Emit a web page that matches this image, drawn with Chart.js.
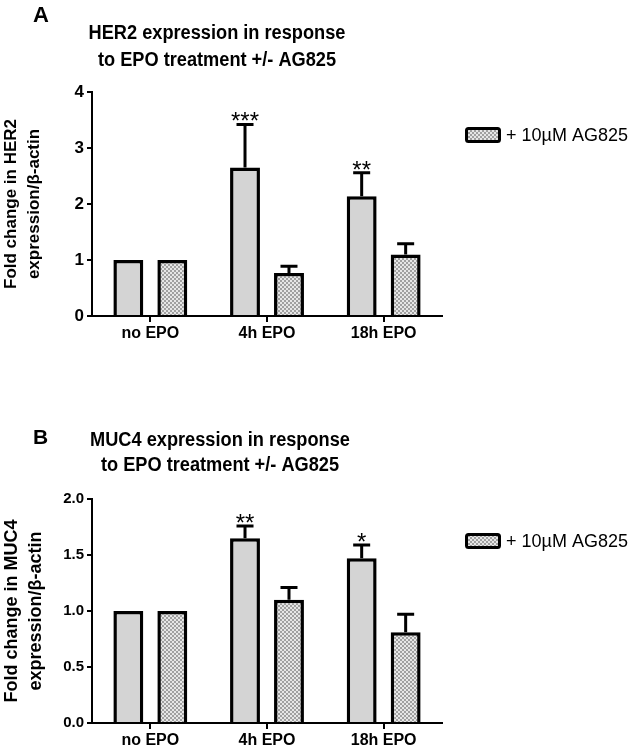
<!DOCTYPE html>
<html>
<head>
<meta charset="utf-8">
<script src="https://cdn.jsdelivr.net/npm/chart.js@4.4.1/dist/chart.umd.min.js"></script>
<style>
  html, body { margin: 0; padding: 0; background: #fff; }
  body { width: 634px; height: 747px; position: relative; overflow: hidden; }
  canvas { position: absolute; left: 0; }
  #cA { top: 0; }
  #cB { top: 375px; }
</style>
</head>
<body>
<canvas id="cA" width="634" height="375"></canvas>
<canvas id="cB" width="634" height="372"></canvas>
<script>
// ---------- DATA ----------
const categories = ['no EPO', '4h EPO', '18h EPO'];
const legendLabel = '+ 10\u00b5M AG825';

// Panel A: HER2
const her2Control = [1.0, 2.65, 2.14];
const her2ControlErr = [0, 0.77, 0.42];
const her2ControlStars = ['', '***', '**'];
const her2AG = [1.0, 0.77, 1.10];
const her2AGErr = [0, 0.12, 0.19];
const her2Ticks = ['0', '1', '2', '3', '4'];

// Panel B: MUC4
const muc4Control = [1.0, 1.65, 1.47];
const muc4ControlErr = [0, 0.11, 0.12];
const muc4ControlStars = ['', '**', '*'];
const muc4AG = [1.0, 1.10, 0.81];
const muc4AGErr = [0, 0.11, 0.16];
const muc4Ticks = ['0.0', '0.5', '1.0', '1.5', '2.0'];

// ---------- STYLE ----------
const FONT = "'Liberation Sans', Arial, Helvetica, sans-serif";
Chart.defaults.font.family = FONT;
Chart.defaults.color = '#000';

function makePattern() {
  const p = document.createElement('canvas');
  p.width = 4; p.height = 4;
  const g = p.getContext('2d');
  g.fillStyle = '#e6e6e6'; g.fillRect(0, 0, 4, 4);
  g.fillStyle = '#a0a0a0';
  g.fillRect(0, 0, 2, 2); g.fillRect(2, 2, 2, 2);
  return g.createPattern(p, 'repeat');
}

const errorBars = {
  id: 'errorBars',
  afterDatasetsDraw(chart) {
    const ctx = chart.ctx, y = chart.scales.y;
    chart.data.datasets.forEach((ds, di) => {
      const meta = chart.getDatasetMeta(di);
      meta.data.forEach((bar, i) => {
        const e = ds.errors ? ds.errors[i] : 0;
        let top = bar.y;
        if (e) {
          top = y.getPixelForValue(ds.data[i] + e);
          ctx.save();
          ctx.strokeStyle = '#000';
          ctx.lineWidth = 3;
          ctx.lineCap = 'butt';
          ctx.beginPath();
          ctx.moveTo(bar.x, bar.y);
          ctx.lineTo(bar.x, top);
          ctx.moveTo(bar.x - 8.5, top);
          ctx.lineTo(bar.x + 8.5, top);
          ctx.stroke();
          ctx.restore();
        }
        if (ds.stars && ds.stars[i]) {
          ctx.save();
          ctx.fillStyle = '#000';
          ctx.font = '24px ' + FONT;
          ctx.textAlign = 'center';
          ctx.textBaseline = 'alphabetic';
          ctx.fillText(ds.stars[i], bar.x, top + 5);
          ctx.restore();
        }
      });
    });
  }
};

const decorations = {
  id: 'decorations',
  afterDraw(chart, args, o) {
    const ctx = chart.ctx;
    ctx.save();
    ctx.fillStyle = '#000';
    // panel letter
    ctx.font = 'bold ' + o.letterSize + 'px ' + FONT;
    ctx.textAlign = 'left';
    ctx.textBaseline = 'middle';
    ctx.fillText(o.letter, o.letterX, o.letterY);
    // title lines (slightly condensed)
    ctx.font = 'bold 20px ' + FONT;
    ctx.textAlign = 'center';
    o.title.forEach((t, k) => {
      ctx.save();
      ctx.translate(o.titleX, o.titleY + k * o.titleGap);
      ctx.scale(0.91, 1);
      ctx.fillText(t, 0, 0);
      ctx.restore();
    });
    // legend
    const ds = chart.data.datasets[1];
    const lx = 465, ly = o.legendY, w = 36, h = 16;
    ctx.fillStyle = ds.backgroundColor;
    ctx.beginPath();
    ctx.roundRect(lx + 1.5, ly + 1.5, w - 3, h - 3, 2);
    ctx.fill();
    ctx.strokeStyle = '#000';
    ctx.lineWidth = 3;
    ctx.stroke();
    ctx.fillStyle = '#000';
    ctx.font = '18px ' + FONT;
    ctx.textAlign = 'left';
    ctx.textBaseline = 'middle';
    ctx.fillText(ds.label, lx + w + 5, ly + h / 2 + 1);
    ctx.restore();
  }
};

function buildChart(id, cfg) {
  const H = document.getElementById(id).height;
  const pattern = makePattern();
  return new Chart(document.getElementById(id), {
    type: 'bar',
    data: {
      labels: categories,
      datasets: [
        { label: 'Control', data: cfg.control, errors: cfg.controlErr, stars: cfg.stars,
          backgroundColor: '#d4d4d4', borderColor: '#000', borderWidth: 3.5,
          categoryPercentage: 0.754, barPercentage: 0.68 },
        { label: legendLabel, data: cfg.ag, errors: cfg.agErr,
          backgroundColor: pattern, borderColor: '#000', borderWidth: 3.5,
          categoryPercentage: 0.754, barPercentage: 0.68 }
      ]
    },
    options: {
      responsive: false,
      animation: false,
      layout: { padding: { top: cfg.top, right: 192, left: 0, bottom: H - cfg.bottom - cfg.xH } },
      plugins: {
        legend: { display: false },
        tooltip: { enabled: false },
        decorations: cfg.deco
      },
      scales: {
        x: {
          offset: true,
          grid: { display: true, drawOnChartArea: false, offset: false, tickLength: 6, color: '#000', lineWidth: 2 },
          border: { display: true, color: '#000', width: 2 },
          ticks: { color: '#000', font: { size: 16, weight: 'bold' }, padding: 2 },
          afterFit: s => { s.height = cfg.xH; }
        },
        y: {
          min: 0, max: cfg.max,
          grid: { display: true, drawOnChartArea: false, tickLength: 5, color: '#000', lineWidth: 2 },
          border: { display: true, color: '#000', width: 2 },
          ticks: { stepSize: cfg.step, color: '#000', font: { size: cfg.tickSize, weight: 'bold' }, padding: 3,
                   callback: (v, i) => cfg.ticks[i] },
          title: { display: true, text: cfg.yTitle, color: '#000',
                   font: { size: cfg.yTitleSize, weight: 'bold', lineHeight: 1.35 }, padding: 0 },
          afterFit: s => { s.width = 92; }
        }
      }
    },
    plugins: [errorBars, decorations]
  });
}

buildChart('cA', {
  control: her2Control, controlErr: her2ControlErr, stars: her2ControlStars,
  ag: her2AG, agErr: her2AGErr,
  max: 4, step: 1, ticks: her2Ticks, tickSize: 17,
  yTitle: ['Fold change in HER2', 'expression/\u03b2-actin'], yTitleSize: 17,
  top: 92, bottom: 316, xH: 34,
  deco: { letter: 'A', letterSize: 22, letterX: 33, letterY: 16,
          title: ['HER2 expression in response', 'to EPO treatment +/- AG825'],
          titleX: 217, titleY: 33, titleGap: 27, legendY: 127 }
});

buildChart('cB', {
  control: muc4Control, controlErr: muc4ControlErr, stars: muc4ControlStars,
  ag: muc4AG, agErr: muc4AGErr,
  max: 2, step: 0.5, ticks: muc4Ticks, tickSize: 15,
  yTitle: ['Fold change in MUC4', 'expression/\u03b2-actin'], yTitleSize: 18,
  top: 124, bottom: 348, xH: 22,
  deco: { letter: 'B', letterSize: 21, letterX: 33, letterY: 63,
          title: ['MUC4 expression in response', 'to EPO treatment +/- AG825'],
          titleX: 220, titleY: 65, titleGap: 25, legendY: 158 }
});
</script>
</body>
</html>
